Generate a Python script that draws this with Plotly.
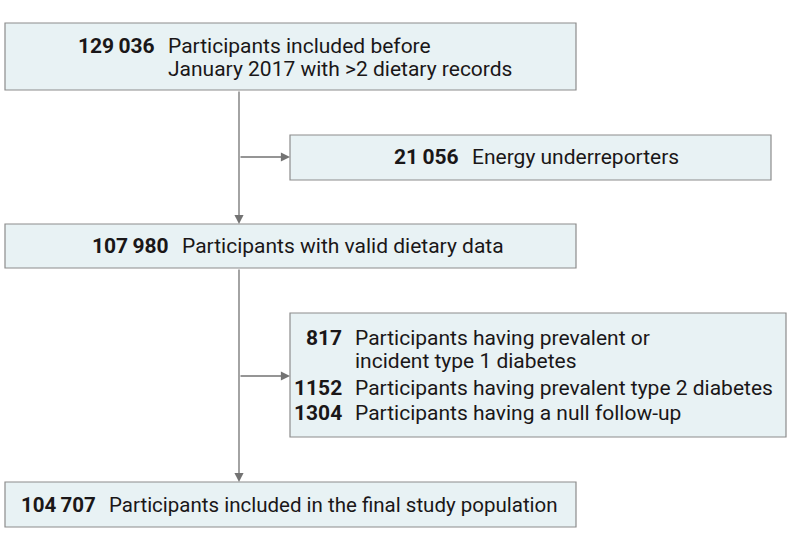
import plotly.graph_objects as go

# flow counts and labels, top to bottom
main_counts = ["129\u2009036", "107\u2009980", "104\u2009707"]
main_labels = [
    "Participants included before<br>January 2017 with >2 dietary records",
    "Participants with valid dietary data",
    "Participants included in the final study population",
]
excl1_counts = ["21\u2009056"]
excl1_labels = ["Energy underreporters"]
excl2_counts = ["817", "1152", "1304"]
excl2_labels = [
    "Participants having prevalent or<br>incident type 1 diabetes",
    "Participants having prevalent type 2 diabetes",
    "Participants having a null follow-up",
]

FILL = "#e8f2f4"
EDGE = "#8c8c8c"
ARROW = "#737373"
INK = "#1a1718"
FONT = "Roboto, Arial"
FS = 21
LINE = 23

# box geometry (x0, y0, x1, y1) in page pixels
boxes = {
    "main1": (5, 23, 576, 90),
    "excl1": (290, 135, 771, 180),
    "main2": (5, 224, 576, 268),
    "excl2": (290, 313, 786, 437),
    "main3": (5, 482, 576, 527),
}
trunk_x = 239

fig = go.Figure()
fig.add_trace(go.Scatter(x=[0, 794], y=[0, 546], mode="markers", marker=dict(opacity=0),
                         hoverinfo="skip", showlegend=False))

for x0, y0, x1, y1 in boxes.values():
    fig.add_shape(type="rect", x0=x0, y0=y0, x1=x1, y1=y1, fillcolor=FILL,
                  line=dict(color=EDGE, width=1.2), layer="below")


def entry(x_num, y, count, label, fs=FS):
    fig.add_annotation(x=x_num, y=y, text=f"<b>{count}</b>", showarrow=False, xanchor="right",
                       yanchor="middle", font=dict(family=FONT, size=fs, color=INK))
    for i, line in enumerate(label.split("<br>")):
        fig.add_annotation(x=x_num + 9, y=y + i * LINE, text=line, showarrow=False, xanchor="left",
                           yanchor="middle", font=dict(family=FONT, size=fs, color=INK))


entry(157, 46, main_counts[0], main_labels[0])
entry(171, 246, main_counts[1], main_labels[1])
entry(98, 505, main_counts[2], main_labels[2], fs=20.5)
entry(461, 157, excl1_counts[0], excl1_labels[0])
entry(344, 338, excl2_counts[0], excl2_labels[0])
entry(344, 388, excl2_counts[1], excl2_labels[1])
entry(344, 413, excl2_counts[2], excl2_labels[2])


def arrow(x0, y0, x1, y1):
    fig.add_annotation(x=x1, y=y1, ax=x0, ay=y0, xref="x", yref="y", axref="x", ayref="y", text="",
                       showarrow=True, arrowhead=2, arrowsize=1.4, arrowwidth=1.3, arrowcolor=ARROW)


arrow(trunk_x, 90, trunk_x, 224)
arrow(trunk_x, 157, 290, 157)
arrow(trunk_x, 268, trunk_x, 482)
arrow(trunk_x, 376, 290, 376)

fig.update_layout(
    width=794, height=546, margin=dict(l=0, r=0, t=0, b=0),
    plot_bgcolor="#ffffff", paper_bgcolor="#ffffff",
    xaxis=dict(range=[0, 794], visible=False, fixedrange=True),
    yaxis=dict(range=[546, 0], visible=False, fixedrange=True),
    showlegend=False,
)
fig.write_html("out.html", config={"displayModeBar": False},
               post_script="document.body.style.margin='0';")
